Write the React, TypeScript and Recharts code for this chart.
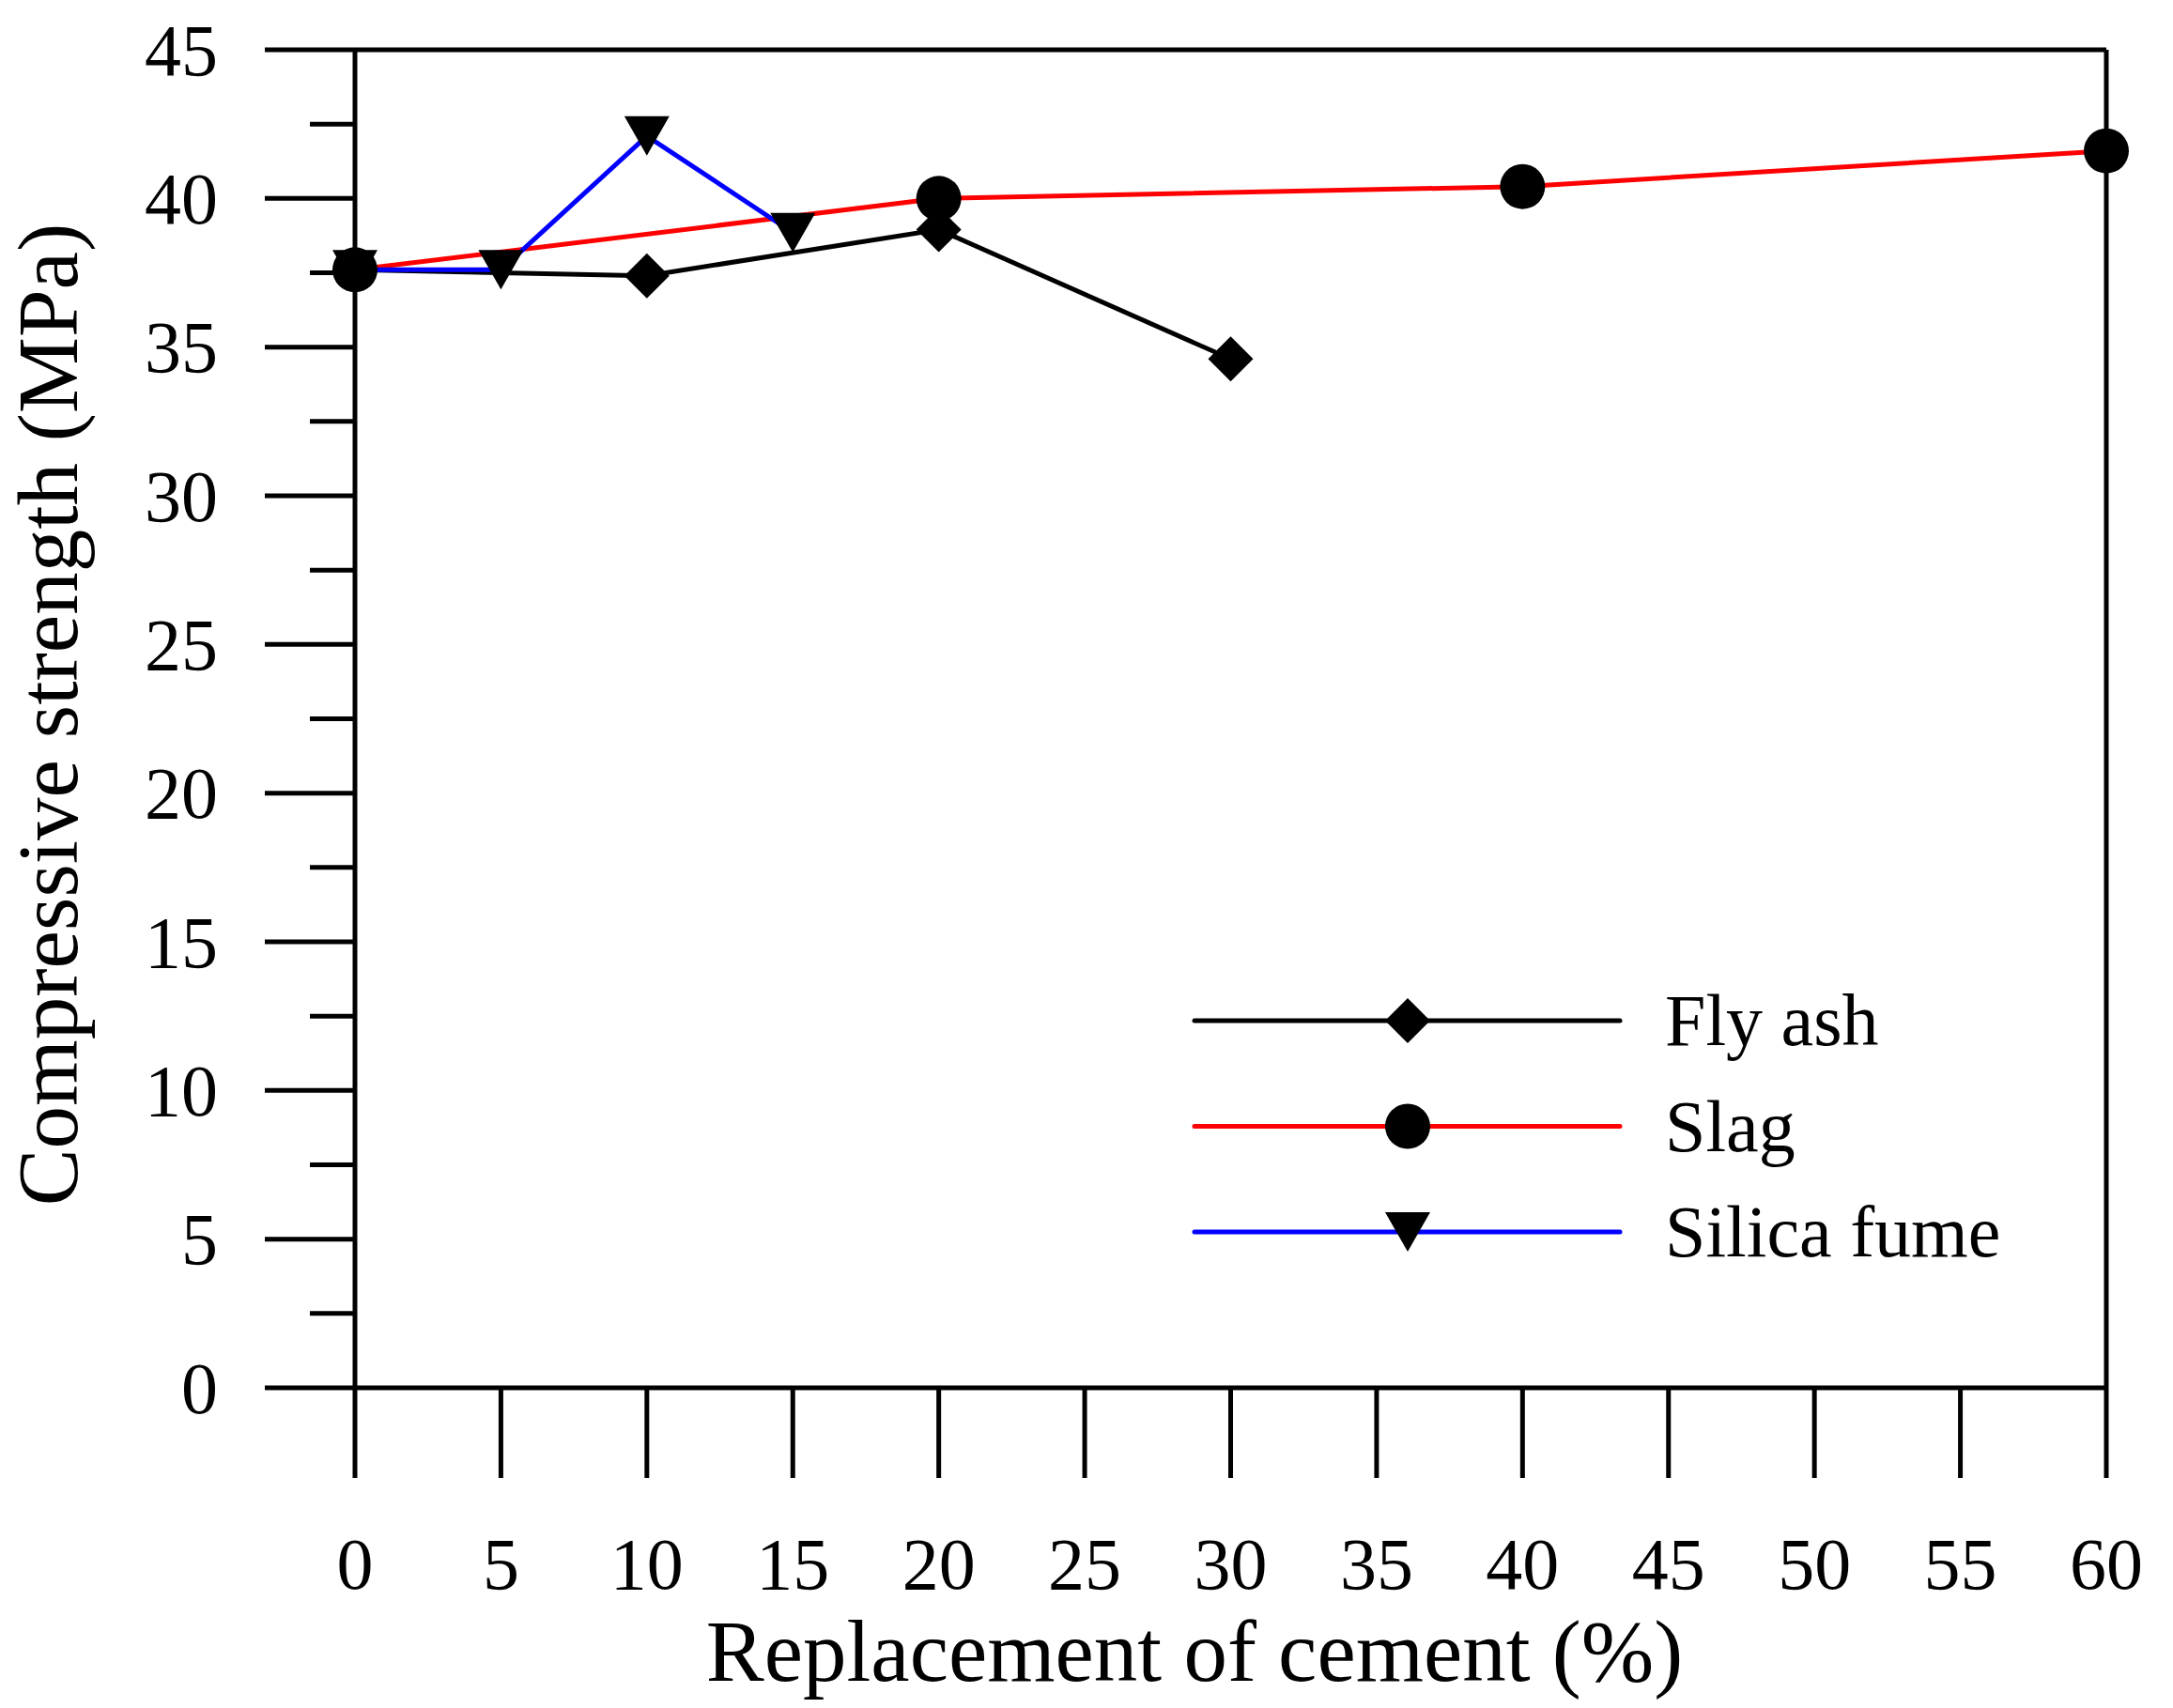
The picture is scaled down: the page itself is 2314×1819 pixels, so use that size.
import React from 'react'
import { LineChart, Line, XAxis, YAxis, ReferenceLine, Customized } from 'recharts'

// replacement level (%) and compressive strength (MPa)
const flyAshLevels = [0, 10, 20, 30]
const flyAshStrength = [37.6, 37.4, 38.95, 34.6]
const slagLevels = [0, 20, 40, 60]
const slagStrength = [37.6, 40.0, 40.4, 41.6]
const silicaLevels = [0, 5, 10, 15]
const silicaStrength = [37.6, 37.6, 42.1, 38.85]

const xTicks = [0, 5, 10, 15, 20, 25, 30, 35, 40, 45, 50, 55, 60]
const yTicks = [0, 2.5, 5, 7.5, 10, 12.5, 15, 17.5, 20, 22.5, 25, 27.5, 30, 32.5, 35, 37.5, 40, 42.5, 45]

const FONT = '"Liberation Serif", "Times New Roman", serif'

type Shape = 'diamond' | 'circle' | 'triangle'

const toRows = (xs: number[], ys: number[]) => xs.map((x, i) => ({ x, y: ys[i] }))

const series = [
  { name: 'Fly ash', color: '#000000', shape: 'diamond' as Shape, data: toRows(flyAshLevels, flyAshStrength) },
  { name: 'Slag', color: '#ff0000', shape: 'circle' as Shape, data: toRows(slagLevels, slagStrength) },
  { name: 'Silica fume', color: '#0000ff', shape: 'triangle' as Shape, data: toRows(silicaLevels, silicaStrength) },
]

// markers drawn on top in this order: diamonds, triangles, circles
const markerOrder = ['Fly ash', 'Silica fume', 'Slag']

function Marker({ shape, cx, cy }: { shape: Shape; cx: number; cy: number }) {
  if (shape === 'diamond') {
    return <polygon points={`${cx},${cy - 24} ${cx + 24},${cy} ${cx},${cy + 24} ${cx - 24},${cy}`} fill="#000" />
  }
  if (shape === 'triangle') {
    return <polygon points={`${cx - 24},${cy - 21} ${cx + 24},${cy - 21} ${cx},${cy + 21}`} fill="#000" />
  }
  return <circle cx={cx} cy={cy} r={24} fill="#000" />
}

function YTick(props: any) {
  const { x, y, payload } = props
  const v = payload.value
  const major = v % 5 === 0
  return (
    <g>
      <line x1={x - (major ? 96 : 48)} x2={x} y1={y} y2={y} stroke="#000" strokeWidth={5} />
      {major && (
        <text x={x - 146} y={y} dy="0.34em" textAnchor="end" fontSize={78} fontFamily={FONT} fill="#000">
          {v}
        </text>
      )}
    </g>
  )
}

function XTick(props: any) {
  const { x, y, payload } = props
  return (
    <g>
      <line x1={x} x2={x} y1={y} y2={y + 96} stroke="#000" strokeWidth={5} />
      <text x={x} y={y + 214} textAnchor="middle" fontSize={78} fontFamily={FONT} fill="#000">
        {payload.value}
      </text>
    </g>
  )
}

function Overlay() {
  return (
    <g>
      <text x={1272} y={1790} textAnchor="middle" fontSize={93} fontFamily={FONT} fill="#000">
        Replacement of cement (%)
      </text>
      <text
        x={82}
        y={761}
        transform="rotate(-90, 82, 761)"
        textAnchor="middle"
        fontSize={91}
        fontFamily={FONT}
        fill="#000"
      >
        Compressive strength (MPa)
      </text>
      {series.map((s, i) => {
        const rowY = 1087 + i * 112.5
        return (
          <g key={s.name}>
            <line x1={1272} x2={1725} y1={rowY} y2={rowY} stroke={s.color} strokeWidth={5} strokeLinecap="round" />
            <Marker shape={s.shape} cx={1499} cy={rowY} />
            <text x={1773} y={rowY + 26} fontSize={78} fontFamily={FONT} fill="#000">
              {s.name}
            </text>
          </g>
        )
      })}
    </g>
  )
}

export default function App() {
  return (
    <div style={{ position: 'absolute', left: 0, top: 0, background: '#fff' }}>
      <LineChart width={2314} height={1819} margin={{ top: 53, right: 71, bottom: 0, left: 0 }}>
        <XAxis
          type="number"
          dataKey="x"
          domain={[0, 60]}
          ticks={xTicks}
          interval={0}
          height={341}
          tickSize={0}
          tickMargin={0}
          tickLine={false}
          axisLine={{ stroke: '#000', strokeWidth: 5 }}
          tick={<XTick />}
        />
        <YAxis
          type="number"
          domain={[0, 45]}
          ticks={yTicks}
          interval={0}
          width={378}
          tickSize={0}
          tickMargin={0}
          tickLine={false}
          axisLine={{ stroke: '#000', strokeWidth: 5 }}
          tick={<YTick />}
        />
        <ReferenceLine y={45} stroke="#000" strokeWidth={5} />
        <ReferenceLine x={60} stroke="#000" strokeWidth={5} />
        {series.map((s) => (
          <Line
            key={`line-${s.name}`}
            data={s.data}
            dataKey="y"
            type="linear"
            stroke={s.color}
            strokeWidth={5}
            dot={false}
            activeDot={false}
            isAnimationActive={false}
          />
        ))}
        {markerOrder.map((name) => {
          const s = series.find((d) => d.name === name)!
          return (
            <Line
              key={`dots-${s.name}`}
              data={s.data}
              dataKey="y"
              type="linear"
              stroke="none"
              dot={(p: any) => <Marker key={`${s.name}-${p.index}`} shape={s.shape} cx={p.cx} cy={p.cy} />}
              activeDot={false}
              isAnimationActive={false}
            />
          )
        })}
        <Customized component={<Overlay />} />
      </LineChart>
    </div>
  )
}
